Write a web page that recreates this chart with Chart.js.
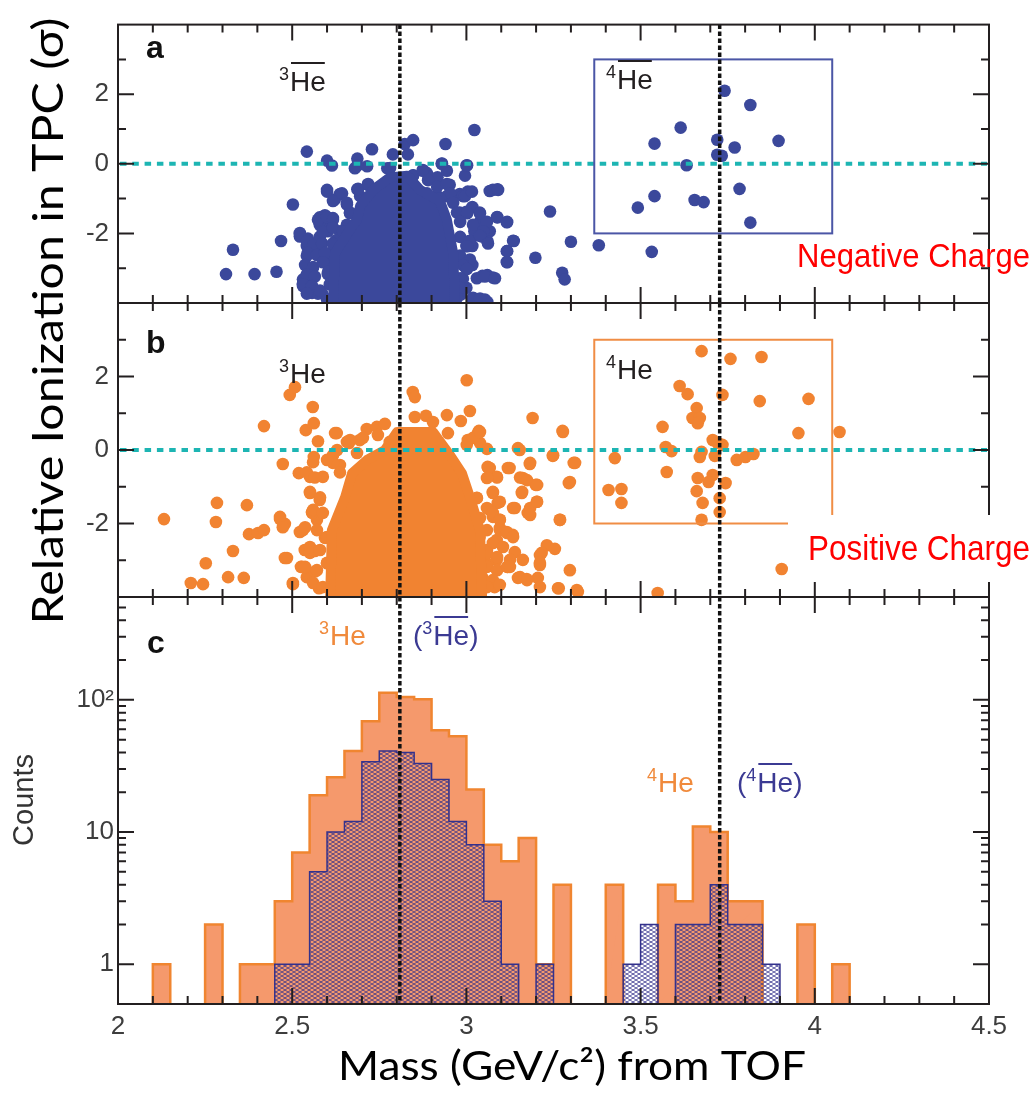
<!doctype html>
<html lang="en">
<head>
<meta charset="utf-8">
<title>Helium / antihelium identification</title>
<script src="https://cdn.jsdelivr.net/npm/chart.js"></script>
<style>
  body { margin: 0; background: #fff; }
  #wrap { position: relative; width: 1034px; height: 1096px; }
  #wrap canvas { position: absolute; left: 0; top: 0; }
</style>
</head>
<body>
<div id="wrap">
  <canvas id="panelC" width="1034" height="1096"></canvas>
  <canvas id="panelB" width="1034" height="1096"></canvas>
  <canvas id="panelA" width="1034" height="1096"></canvas>
</div>
<script>
// ---------- data ----------
const xTickLabels = [2, 2.5, 3, 3.5, 4, 4.5];
const xMajor = [2.5, 3, 3.5, 4];
const xMinor = [2.1, 2.2, 2.3, 2.4, 2.6, 2.7, 2.8, 2.9, 3.1, 3.2, 3.3, 3.4, 3.6, 3.7, 3.8, 3.9, 4.1, 4.2, 4.3, 4.4];
const sigmaTicks = [-2, 0, 2];
const sigmaMinor = [-3, -1, 1, 3];
const countTicks = [1, 10, 100];
const countMinor = [2, 3, 4, 5, 6, 7, 8, 9, 20, 30, 40, 50, 60, 70, 80, 90, 200, 300, 400, 500];
const countMin = 0.5;
const heMass = [2.809, 3.727];      // dotted lines: 3He and 4He masses
const boxX = [3.367, 4.05];         // 4He selection window
const boxY = [-2, 3];

// panel a (negative charge): outline of the saturated core + single candidates
const negCore = [[2.617,-4.0],[2.623,-2.56],[2.666,-1.88],[2.686,-1.61],[2.695,-1.21],[2.732,-0.75],[2.781,-0.39],[2.830,-0.34],[2.867,-0.75],[2.924,-1.07],[2.944,-1.61],[2.962,-2.56],[2.967,-4.0]];
const negPts = [
  [2.310,-3.17],[2.330,-2.47],[2.392,-3.17],[2.455,-3.10],[2.468,-2.22],[2.502,-1.17],
  [2.542,0.35],[2.600,0.09],[2.614,-0.05],[2.687,0.15],[2.687,-0.05],[2.729,0.42],[2.789,0.27],[2.823,0.57],[2.847,0.68],[2.832,0.27],[2.940,0.57],[3.023,0.97],[2.929,0.00],[3.000,-0.05],[2.680,-0.13],[2.773,-0.13],[2.875,-0.18],[2.895,-0.39],
  [2.600,-0.80],[2.637,-0.87],[2.657,-1.17],[2.666,-1.40],[2.687,-0.73],[2.717,-0.60],[2.773,-0.50],[2.847,-0.33],[2.886,-0.26],[2.917,-0.39],[2.952,-0.60],[2.917,-0.93],[2.944,-0.93],[2.981,-0.87],[3.004,-0.80],[3.067,-0.78],[3.089,-0.73],[2.990,-0.93],
  [2.981,-1.40],[3.000,-1.38],[3.017,-1.24],[3.038,-1.40],[3.089,-1.54],[3.116,-1.68],[3.038,-1.68],[3.067,-1.94],[3.023,-1.94],[3.136,-2.22],[3.010,-2.22],[3.046,-2.09],[3.060,-2.22],[3.017,-2.36],[3.000,-2.36],[3.116,-2.51],[3.116,-2.82],[2.981,-2.75],[3.010,-2.82],[3.017,-2.91],[3.000,-3.02],[3.046,-3.22],[3.076,-3.27],[3.060,-3.20],[3.000,-3.56],[3.017,-3.90],[3.053,-3.90],[3.038,-3.97],[3.060,-3.97],[2.990,-3.30],[2.985,-3.75],
  [2.522,-2.09],[2.522,-2.02],[2.542,-2.36],[2.545,-2.15],[2.559,-2.29],[2.579,-2.10],[2.579,-2.22],[2.588,-2.56],[2.571,-2.56],[2.542,-2.64],[2.602,-2.75],[2.617,-2.51],[2.637,-1.94],[2.657,-1.75],[2.579,-1.75],[2.602,-1.61],[2.579,-1.54],[2.579,-1.68],[2.594,-1.48],[2.617,-1.56],[2.602,-1.94],[2.622,-1.03],[2.557,-3.02],[2.542,-3.29],[2.531,-3.32],[2.531,-3.44],[2.531,-3.51],[2.551,-3.64],[2.557,-3.71],[2.574,-3.73],[2.585,-3.71],[2.602,-3.17],[2.608,-3.18],[2.628,-3.37],[2.600,-3.90],[2.620,-3.80],[2.615,-2.90],[2.625,-2.20],
  [2.522,-1.99],[2.542,-2.22],[2.574,-1.61],[2.600,-1.53],[2.617,-1.61],[2.588,-1.96],[2.617,-1.83],[2.646,-1.94],[2.560,-2.34],[2.586,-2.29],[2.617,-2.29],[2.545,-2.56],[2.571,-2.62],[2.594,-2.56],[2.537,-2.91],[2.560,-2.97],[2.588,-2.83],[2.542,-3.18],[2.565,-3.24],[2.531,-3.46],[2.557,-3.51],[2.580,-3.64],[2.542,-3.73],[2.608,-3.46],[2.603,-3.10],[2.600,-0.75],[2.617,-1.07],[2.643,-0.85],[2.666,-1.42],[2.657,-1.12],[2.695,-0.93],[2.689,-0.72],[2.718,-0.58],[2.715,-0.07],[2.781,-0.12],[2.752,-0.85],
  [2.847,-0.34],[2.875,-0.20],[2.890,-0.47],[2.916,-0.66],[2.944,-0.58],[2.953,-0.85],[2.887,-0.85],[2.924,-0.99],[2.962,-1.12],[2.996,-0.93],[3.016,-0.80],[3.076,-0.75],[3.091,-0.75],[2.944,-0.20],[2.996,-0.34],[2.930,0.01],[3.002,-0.04],
  [2.973,-1.40],[3.002,-1.42],[3.039,-1.42],[3.059,-1.67],[3.088,-1.53],[3.117,-1.67],[2.982,-1.67],[3.019,-1.75],[3.048,-1.94],
  [2.982,-2.10],[3.010,-2.21],[3.039,-2.07],[3.062,-2.29],[3.002,-2.37],[3.134,-2.21],[2.982,-2.64],[3.010,-2.75],[2.990,-2.91],[3.002,-3.02],[3.117,-2.51],[3.117,-2.83],[2.982,-3.29],[3.030,-3.29],[3.053,-3.24],[3.082,-3.29],[2.982,-3.56],[3.019,-3.85],[3.039,-3.87],[2.973,-3.85],
  [3.240,-1.37],[3.300,-2.24],[3.380,-2.34],[3.275,-3.13],[3.282,-3.32],[3.198,-2.70],[3.532,-2.53],
  [3.741,2.10],[3.815,1.69],[3.615,1.04],[3.540,0.58],[3.720,0.69],[3.770,0.47],[3.896,0.66],[3.720,0.26],[3.733,0.23],[3.632,-0.04],[3.784,-0.72],[3.540,-0.93],[3.492,-1.26],[3.655,-1.04],[3.681,-1.10],[3.815,-1.69]
];

// panel b (positive charge)
const posCore = [[2.609,-4.0],[2.614,-2.18],[2.652,-1.28],[2.672,-0.63],[2.715,-0.27],[2.766,0.0],[2.801,0.49],[2.904,0.49],[2.953,-0.14],[2.987,-0.63],[3.010,-1.28],[3.039,-2.18],[3.045,-4.0]];
const posPts = [
  [2.132,-1.88],[2.284,-1.44],[2.281,-1.96],[2.370,-1.50],[2.252,-3.08],[2.209,-3.62],[2.244,-3.65],[2.316,-3.46],[2.361,-3.48],[2.330,-2.75],[2.376,-2.29],[2.402,-2.26],[2.419,-2.18],[2.419,0.65],[2.493,1.50],[2.508,1.71],[2.559,1.17],[2.539,0.54],[2.562,0.73],[2.574,0.24],[2.628,0.46],[2.473,-0.38],[2.519,-0.63],[2.465,-1.88],[2.479,-2.01],[2.522,-2.23],[2.485,-2.94],[2.525,-3.18],[2.536,-2.72],[2.565,-2.75],[2.542,-3.46],[2.502,-3.65],[2.577,-3.76],[2.562,-0.19],[2.551,-0.73],[2.588,-0.73],[2.551,-1.17],[2.579,-1.36],[2.557,-1.69],[2.571,-1.90],[2.594,-2.39],[2.600,-3.08],[2.617,-0.14],[2.657,0.22],[2.694,0.27],[2.714,0.57],[2.743,0.63],[2.766,0.71],[2.780,0.22],[2.637,-0.41],[2.686,-0.08],[2.846,1.58],[2.852,1.44],[2.852,0.90],
  [2.465,-1.82],[2.473,-2.10],[2.531,-2.18],[2.557,-1.71],[2.479,-2.94],[2.528,-3.18],[2.551,-2.80],[2.565,-3.31],[2.502,-3.62],[2.663,0.19],
  [2.542,-0.61],[2.565,-0.75],[2.551,-1.14],[2.580,-1.29],[2.560,-1.63],[2.588,-1.71],[2.537,-2.10],[2.571,-2.18],[2.600,-2.37],[2.551,-2.64],[2.580,-2.72],[2.537,-3.18],[2.571,-3.27],[2.600,-3.07],[2.560,-3.62],[2.588,-3.73],[2.617,-0.35],[2.637,-0.61],[2.600,-0.27],[2.560,-0.33],[2.629,0.0],[2.666,0.27],[2.703,0.33],[2.746,0.41],[2.623,0.46],
  [3.001,1.90],[3.010,1.06],[2.884,0.93],[2.904,0.76],[2.944,0.95],[2.984,0.79],[2.947,0.46],[3.036,0.52],[3.004,0.27],[3.059,0.03],[3.153,0.00],[3.190,0.87],[3.276,0.52],[3.248,-0.16],[3.308,-0.35],[3.294,-0.90],[3.182,-0.38],[3.124,-0.49],[3.061,-0.46],[3.087,-0.73],[3.162,-0.76],[3.199,-0.95],[3.159,-1.17],[3.076,-1.17],[3.090,-1.44],[3.202,-1.41],[3.139,-1.58],[3.176,-1.71],[3.268,-1.90],[3.030,-1.31],[3.067,-1.63],[3.096,-1.90],[3.116,-2.23],[3.133,-2.31],[3.231,-2.59],[3.254,-2.69],[3.216,-2.80],[3.139,-2.78],[3.162,-2.99],[3.211,-3.13],[3.119,-3.18],[3.087,-2.99],[3.297,-3.27],[3.148,-3.48],[3.173,-3.51],[3.205,-3.48],[3.265,-3.76],[3.320,-3.86],[3.087,-2.45],[3.096,-2.12],[3.059,-2.72],[3.038,-2.37],[3.030,-2.18],[3.076,-1.82],[3.059,-3.08],[3.038,-3.35],[3.067,-3.62],[3.081,-3.73],[3.033,0.46],[3.067,-0.49],[3.001,0.14],
  [3.062,-0.48],[3.088,-0.75],[3.119,-0.49],[3.059,-0.76],[3.183,-0.35],[3.154,-0.75],[3.174,-0.82],[3.203,-0.95],[3.160,-1.14],[3.076,-1.14],[3.096,-1.41],[3.030,-1.30],[3.059,-1.58],[3.039,-1.85],[3.076,-1.71],[3.096,-1.90],[3.134,-1.58],[3.183,-1.58],[3.203,-1.41],[3.183,-1.77],[3.059,-2.18],[3.096,-2.18],[3.117,-2.26],[3.134,-2.37],[3.076,-2.53],[3.105,-2.64],[3.059,-2.80],[3.088,-2.91],[3.125,-2.99],[3.059,-3.18],[3.088,-3.27],[3.117,-3.18],[3.045,-3.46],[3.076,-3.54],[3.059,-3.73],[3.096,-3.67],[3.154,-3.46],[3.174,-3.54],[3.211,-2.86],[3.211,-3.07],[3.125,-3.18],[3.269,-1.90],[3.297,-0.87],[3.312,-0.35],[3.249,-0.14],[3.148,0.05],[3.039,0.19],[3.019,0.33],[3.039,0.49],[3.277,0.49],[3.211,-3.73],[3.263,-3.76],[3.317,-3.81],
  [3.675,2.69],[3.758,2.48],[3.847,2.53],[3.612,1.74],[3.635,1.52],[3.661,1.14],[3.649,0.87],[3.670,0.87],[3.664,0.73],[3.735,1.50],[3.842,1.33],[3.982,1.39],[3.953,0.46],[4.071,0.49],[3.563,0.63],[3.572,0.08],[3.589,-0.03],[3.426,-0.22],[3.575,-0.60],[3.707,0.27],[3.721,0.19],[3.735,0.14],[3.713,-0.16],[3.675,-0.05],[3.670,-0.19],[3.776,-0.27],[3.801,-0.19],[3.824,-0.11],[3.664,-0.76],[3.707,-0.68],[3.695,-0.87],[3.744,-0.90],[3.661,-1.12],[3.678,-1.44],[3.727,-1.31],[3.727,-1.69],[3.675,-1.90],[3.408,-1.09],[3.445,-1.06],[3.445,-1.44],[3.905,-3.24],[3.549,-3.89]
];

// panel c histograms, bin width 0.05
const binWidth = 0.05;
const binLow = [2.10,2.15,2.20,2.25,2.30,2.35,2.40,2.45,2.50,2.55,2.60,2.65,2.70,2.75,2.80,2.85,2.90,2.95,3.00,3.05,3.10,3.15,3.20,3.25,3.30,3.35,3.40,3.45,3.50,3.55,3.60,3.65,3.70,3.75,3.80,3.85,3.90,3.95,4.00,4.05];
const heCounts   = [1,0,0,2,0,1,1,3,7,19,26,41,69,113,105,101,59,53,21,8,6,9,1,4,0,0,4,0,0,4,3,11,10,3,3,0,0,2,0,1];
const antiCounts = [0,0,0,0,0,0,0,1,1,5,10,12,34,41,40,33,25,12,8,3,1,0,1,0,0,0,0,1,2,0,2,2,4,2,2,1,0,0,0,0];

// ---------- colours ----------
const BLUE = '#3b489b', ORANGE = '#f18331', INK = '#231f20', TICKCOL = '#3d3d3d';

const hatch = (() => {
  const c = document.createElement('canvas');
  c.width = 6; c.height = 4;
  const g = c.getContext('2d');
  g.strokeStyle = '#34318d'; g.lineWidth = 0.8;
  g.beginPath();
  g.moveTo(0, 0); g.lineTo(6, 4);
  g.moveTo(0, 4); g.lineTo(6, 0);
  g.stroke();
  return g.createPattern(c, 'repeat');
})();

function steps(counts) {
  const pts = [{ x: binLow[0], y: countMin }];
  binLow.forEach((lo, i) => {
    const v = counts[i] || countMin;
    pts.push({ x: lo, y: v }, { x: lo + binWidth, y: v });
  });
  pts.push({ x: binLow[binLow.length - 1] + binWidth, y: countMin });
  return pts;
}
const hideFloor = c => (c.p0.parsed.y === countMin && c.p1.parsed.y === countMin) ? 'rgba(0,0,0,0)' : undefined;

// ---------- drawing helpers ----------
function frame(g, a, sx, sy, yMaj, yMin) {
  g.setLineDash([]);
  g.strokeStyle = INK; g.lineWidth = 2;
  g.beginPath();
  const xt = (vals, len) => vals.forEach(v => {
    const p = sx.getPixelForValue(v);
    g.moveTo(p, a.top); g.lineTo(p, a.top + len);
    g.moveTo(p, a.bottom); g.lineTo(p, a.bottom - len);
  });
  const yt = (vals, len) => vals.forEach(v => {
    const p = sy.getPixelForValue(v);
    g.moveTo(a.left, p); g.lineTo(a.left + len, p);
    g.moveTo(a.right, p); g.lineTo(a.right - len, p);
  });
  xt(xMajor, 16); xt(xMinor, 8);
  yt(yMaj, 16); yt(yMin, 8);
  g.stroke();
  g.strokeRect(a.left, a.top, a.right - a.left, a.bottom - a.top);
}

function massLines(g, a, sx) {
  g.strokeStyle = '#111'; g.lineWidth = 3.5; g.setLineDash([4.5, 2.5]);
  g.beginPath();
  heMass.forEach(m => { const p = sx.getPixelForValue(m); g.moveTo(p, a.top); g.lineTo(p, a.bottom); });
  g.stroke();
  g.setLineDash([]);
}

function zeroLine(g, a, sy) {
  const p = sy.getPixelForValue(0);
  g.strokeStyle = '#1db5b3'; g.lineWidth = 4; g.setLineDash([6.5, 5.8]);
  g.beginPath(); g.moveTo(a.left + 2, p); g.lineTo(a.right - 2, p); g.stroke();
  g.setLineDash([]);
}

function windowBox(g, sx, sy, col) {
  const x0 = sx.getPixelForValue(boxX[0]), x1 = sx.getPixelForValue(boxX[1]);
  const y0 = sy.getPixelForValue(boxY[1]), y1 = sy.getPixelForValue(boxY[0]);
  g.strokeStyle = col; g.lineWidth = 2; g.setLineDash([]);
  g.strokeRect(x0, y0, x1 - x0, y1 - y0);
}

function letter(g, t, x, y) {
  g.fillStyle = '#111'; g.font = 'bold 32px "Liberation Sans", Arial, sans-serif';
  g.textAlign = 'left'; g.textBaseline = 'alphabetic';
  g.fillText(t, x, y);
}

function iso(g, x, base, mass, anti, col, paren) {
  g.fillStyle = col; g.textAlign = 'left'; g.textBaseline = 'alphabetic';
  const big = '28px "Liberation Sans", Arial, sans-serif';
  let cx = x;
  g.font = big;
  if (paren) { g.fillText('(', cx, base); cx += g.measureText('(').width; }
  g.font = '18px "Liberation Sans", Arial, sans-serif';
  g.fillText(mass, cx, base - 11); cx += g.measureText(mass).width + 1;
  g.font = big;
  g.fillText('He', cx, base);
  const w = g.measureText('He').width;
  if (anti) {
    g.strokeStyle = col; g.lineWidth = 2;
    g.beginPath(); g.moveTo(cx + 1, base - 28); g.lineTo(cx + w - 1, base - 28); g.stroke();
  }
  cx += w;
  if (paren) g.fillText(')', cx, base);
}

function fitText(g, txt, x, y, width, font, col, rot, align) {
  g.save();
  g.font = font; g.fillStyle = col;
  g.textAlign = align || 'center'; g.textBaseline = 'alphabetic';
  g.translate(x, y);
  if (rot) g.rotate(rot);
  g.scale(width / g.measureText(txt).width, 1);
  g.fillText(txt, 0, 0);
  g.restore();
}

const NARROW = '"Liberation Sans Narrow", "Liberation Sans", Arial, sans-serif';

const decoA = {
  id: 'decoA',
  afterDraw(chart) {
    const g = chart.ctx, a = chart.chartArea, sx = chart.scales.x, sy = chart.scales.y;
    g.save();
    zeroLine(g, a, sy);
    windowBox(g, sx, sy, '#4b56a6');
    massLines(g, a, sx);
    frame(g, a, sx, sy, sigmaTicks, sigmaMinor);
    letter(g, 'a', 146, 58);
    iso(g, 279, 91, '3', true, INK, false);
    iso(g, 606, 89, '4', true, INK, false);
    fitText(g, 'Negative Charge', 797, 267, 233, '33px ' + NARROW, '#ff0000', 0, 'left');
    g.restore();
  }
};

const decoB = {
  id: 'decoB',
  afterDraw(chart) {
    const g = chart.ctx, a = chart.chartArea, sx = chart.scales.x, sy = chart.scales.y;
    g.save();
    zeroLine(g, a, sy);
    windowBox(g, sx, sy, '#f08d45');
    massLines(g, a, sx);
    frame(g, a, sx, sy, sigmaTicks, sigmaMinor);
    letter(g, 'b', 146, 353);
    iso(g, 279, 383, '3', false, INK, false);
    iso(g, 606, 379, '4', false, INK, false);
    g.fillStyle = '#fff';
    g.fillRect(788, 515, 246, 67);
    fitText(g, 'Positive Charge', 808, 560, 222, '35px ' + NARROW, '#ff0000', 0, 'left');
    g.restore();
  }
};

const decoC = {
  id: 'decoC',
  afterDraw(chart) {
    const g = chart.ctx, a = chart.chartArea, sx = chart.scales.x, sy = chart.scales.y;
    g.save();
    massLines(g, a, sx);
    frame(g, a, sx, sy, countTicks, countMinor);
    letter(g, 'c', 147, 653);
    iso(g, 319, 645, '3', false, '#f08a3c', false);
    iso(g, 413, 645, '3', true, '#3b3a93', true);
    iso(g, 647, 792, '4', false, '#f08a3c', false);
    iso(g, 737, 792, '4', true, '#3b3a93', true);
    // "Counts"
    g.save();
    g.translate(33, 800); g.rotate(-Math.PI / 2);
    g.font = '29px "Liberation Sans", Arial, sans-serif'; g.fillStyle = '#333';
    g.textAlign = 'center'; g.textBaseline = 'alphabetic';
    g.fillText('Counts', 0, 0);
    g.restore();
    // shared axis titles
    fitText(g, 'Relative Ionization in TPC (σ)', 63, 321, 607, '42px Lato, "Open Sans", sans-serif', '#000', -Math.PI / 2);
    fitText(g, 'Mass (GeV/c²) from TOF', 572, 1080, 468, '40px Lato, "Open Sans", sans-serif', '#000');
    g.restore();
  }
};

// ---------- charts ----------
const tickFont = { family: '"Liberation Sans", Arial, sans-serif', size: 26 };

function sigmaChart(id, top, bottom, core, pts, col, deco) {
  return new Chart(document.getElementById(id), {
    type: 'scatter',
    data: {
      datasets: [
        { type: 'line', data: core.map(([x, y]) => ({ x, y })), borderColor: col, backgroundColor: col,
          borderWidth: 10, borderJoinStyle: 'round', fill: 'start', pointRadius: 0, tension: 0, clip: 0 },
        { data: pts.map(([x, y]) => ({ x, y })), backgroundColor: col, pointBackgroundColor: col,
          pointBorderWidth: 0, pointRadius: 6.3, clip: 0 }
      ]
    },
    options: {
      responsive: false, animation: false, events: [],
      layout: { padding: { left: 0, right: 45, top: top, bottom: bottom } },
      plugins: { legend: { display: false }, tooltip: { enabled: false } },
      scales: {
        x: { type: 'linear', min: 2, max: 4.5, display: false },
        y: {
          type: 'linear', min: -4, max: 4,
          afterFit: s => { s.width = 118; },
          afterBuildTicks: s => { s.ticks = sigmaTicks.map(v => ({ value: v })); },
          grid: { display: false, drawTicks: false }, border: { display: false },
          ticks: { padding: 9, color: TICKCOL, font: tickFont }
        }
      }
    },
    plugins: [deco]
  });
}

sigmaChart('panelA', 8, 1096 - 303, negCore, negPts, BLUE, decoA);
sigmaChart('panelB', 303, 1096 - 597, posCore, posPts, ORANGE, decoB);

new Chart(document.getElementById('panelC'), {
  type: 'line',
  data: {
    datasets: [
      { label: 'anti', data: steps(antiCounts), borderColor: '#33318c', backgroundColor: hatch, borderWidth: 1.5,
        fill: 'start', pointRadius: 0, tension: 0, clip: 0, segment: { borderColor: hideFloor } },
      { label: 'he', data: steps(heCounts), borderColor: '#f08530', backgroundColor: '#f5996c', borderWidth: 2.5,
        fill: 'start', pointRadius: 0, tension: 0, clip: 0, segment: { borderColor: hideFloor } }
    ]
  },
  options: {
    responsive: false, animation: false, events: [],
    layout: { padding: { left: 0, right: 45, top: 597, bottom: 0 } },
    plugins: { legend: { display: false }, tooltip: { enabled: false } },
    scales: {
      x: {
        type: 'linear', min: 2, max: 4.5,
        afterFit: s => { s.height = 92; },
        afterBuildTicks: s => { s.ticks = xTickLabels.map(v => ({ value: v })); },
        grid: { display: false, drawTicks: false }, border: { display: false },
        ticks: { padding: 7, color: TICKCOL, font: tickFont, autoSkip: false, maxRotation: 0, callback: v => String(v) }
      },
      y: {
        type: 'logarithmic', min: countMin, max: 600,
        afterFit: s => { s.width = 118; },
        afterBuildTicks: s => { s.ticks = countTicks.map(v => ({ value: v })); },
        grid: { display: false, drawTicks: false }, border: { display: false },
        ticks: { padding: 4, color: TICKCOL, font: tickFont, callback: v => (v === 100 ? '10²' : String(v)) }
      }
    }
  },
  plugins: [decoC]
});
</script>
</body>
</html>
